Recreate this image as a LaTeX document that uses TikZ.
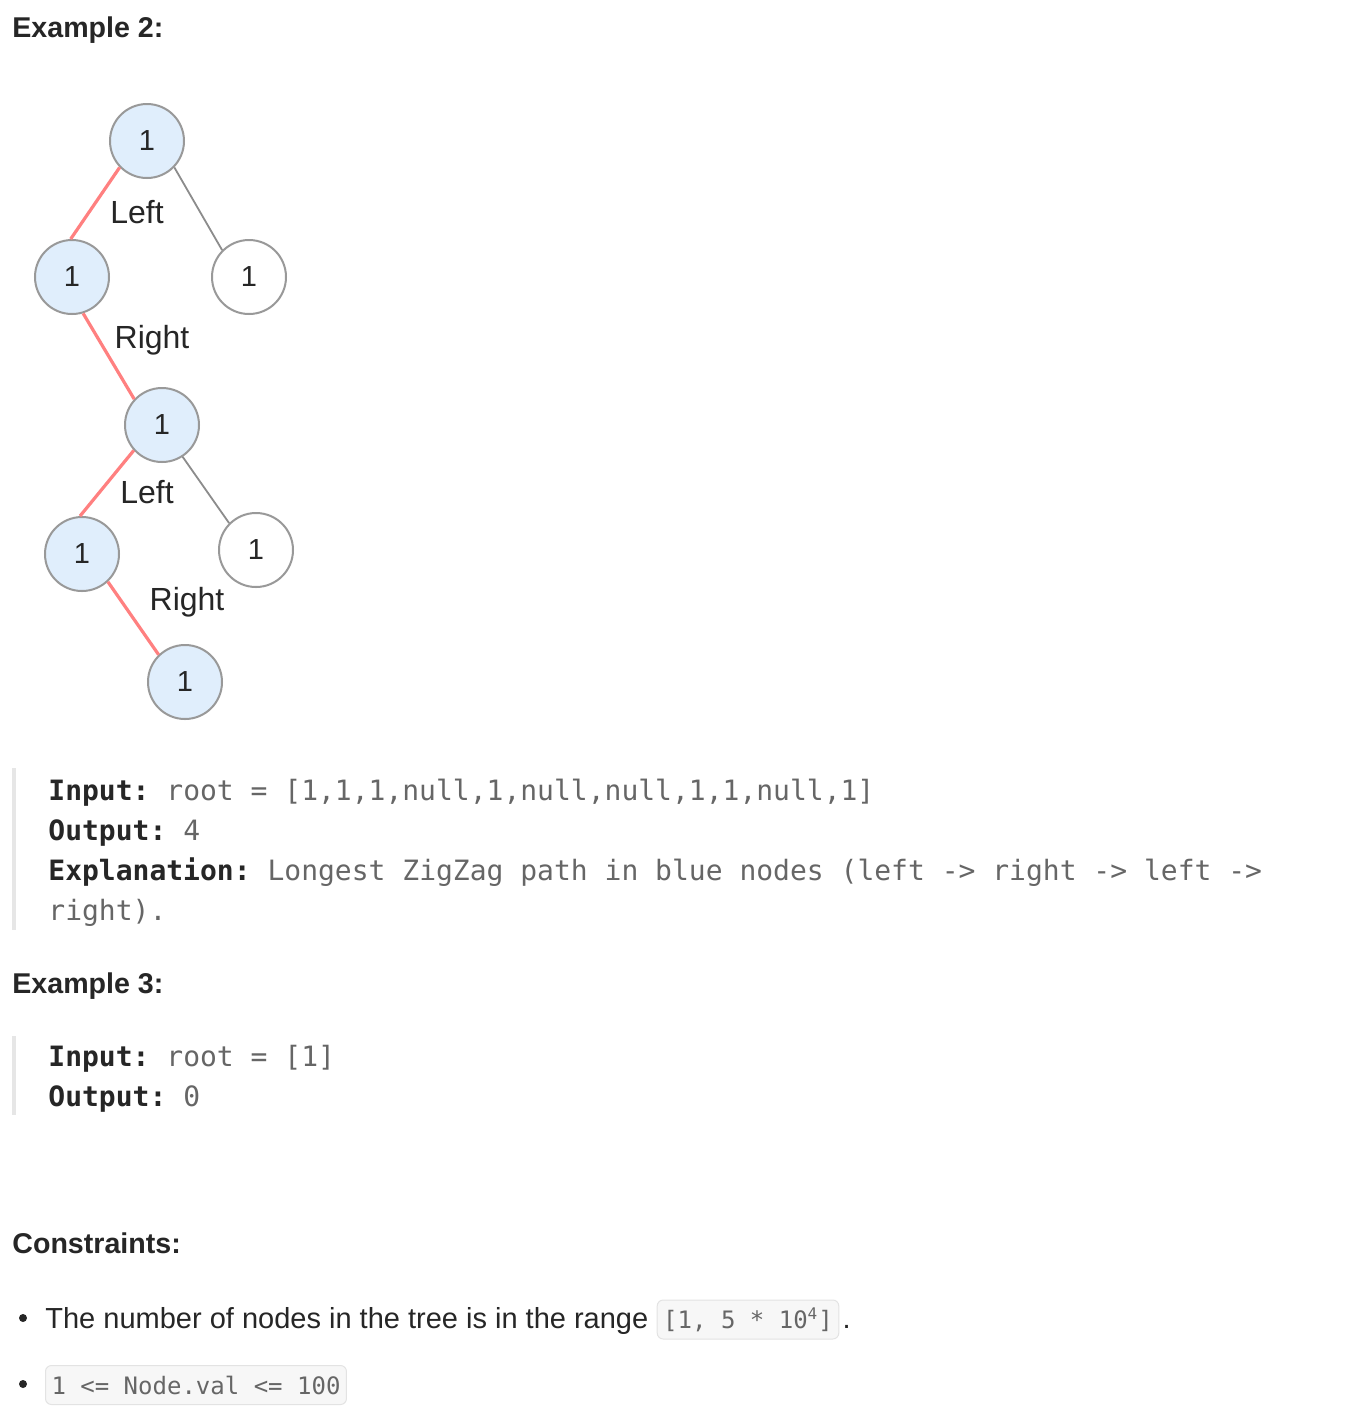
\documentclass[tikz,border=0pt]{standalone}
\usepackage{fontspec}
\setmainfont{Liberation Sans}
\newfontfamily\codefont{DejaVu Sans Mono}
\usetikzlibrary{positioning}
\frenchspacing
\definecolor{ink}{HTML}{262626}
\definecolor{codegray}{HTML}{666666}
\definecolor{barcol}{HTML}{E6E6E6}
\definecolor{nodefill}{HTML}{E0EEFC}
\definecolor{nodeline}{HTML}{999999}
\definecolor{zigred}{HTML}{FF8080}
\definecolor{edgegray}{HTML}{8C8C8C}
\definecolor{chipfill}{HTML}{F7F7F7}
\definecolor{chipline}{HTML}{E3E3E3}

\begin{document}
\begin{tikzpicture}[x=0.5pt, y=-0.5pt, text=ink,
        tnode/.style={circle, draw=nodeline, line width=1pt, fill=white, minimum size=37pt, inner sep=0pt, font=\fontsize{14.5}{14.5}\selectfont},
        onpath/.style={tnode, fill=nodefill},
        zig/.style={draw=zigred, line width=1.6pt},
        plain/.style={draw=edgegray, line width=0.9pt},
        dir/.style={font=\fontsize{16}{16}\selectfont, inner sep=0pt},
        head/.style={font=\fontsize{14.3}{14.3}\selectfont\bfseries, anchor=base west, inner sep=0pt},
        code/.style={font=\fontsize{14}{14}\codefont, text=codegray, anchor=base west, inner sep=0pt},
        body/.style={font=\fontsize{14.5}{14.5}\selectfont, anchor=base west, inner sep=0pt},
        chip/.style={font=\fontsize{12}{12}\codefont, text=codegray, draw=chipline, fill=chipfill, rounded corners=3pt, inner xsep=3pt, minimum height=19.5pt, line width=0.5pt},
        bullet/.style={circle, fill=ink, minimum size=4pt, inner sep=0pt}]
    \useasboundingbox[fill=white] (0,0) rectangle (1348,1420);

    % heading of example 2
    \node[head] (ex2) at (12,37) {Example 2:};

    % the tree
    \node[onpath] (n1) at (147,141) {1};
    \node[onpath] (n2) at (72,277) {1};
    \node[tnode] (n3) at (249,277) {1};
    \node[onpath] (n4) at (162,425) {1};
    \node[onpath] (n5) at (82,554) {1};
    \node[tnode] (n6) at (256,550) {1};
    \node[onpath] (n7) at (185,682) {1};

    \path
        (n1.-136) edge[zig] (n2.92)
        (n1.-44) edge[plain] (n3.135)
        (n2.-73) edge[zig] (n4.137)
        (n4.-138) edge[zig] (n5.93)
        (n4.-57) edge[plain] (n6.135)
        (n5.-47) edge[zig] (n7.134);

    \node[dir] (l1) at (137,212) {Left};
    \node[dir] (r1) at (152,340) {Right};
    \node[dir] (l2) at (147,492) {Left};
    \node[dir] (r2) at (187,602) {Right};

    % example 2 text
    \fill[barcol] (12,768) rectangle (16,930);
    \node[code] (in2) at (48,800) {\textbf{\color{ink}Input:} root = [1,1,1,null,1,null,null,1,1,null,1]};
    \node[code] (out2) at (48,840) {\textbf{\color{ink}Output:} 4};
    \node[code] (ex2a) at (48,880) {\textbf{\color{ink}Explanation:} Longest ZigZag path in blue nodes (left -> right -> left ->};
    \node[code] (ex2b) at (48,920) {right).};

    % example 3
    \node[head] (ex3) at (12,993) {Example 3:};
    \fill[barcol] (12,1036) rectangle (16,1115);
    \node[code] (in3) at (48,1066) {\textbf{\color{ink}Input:} root = [1]};
    \node[code] (out3) at (48,1106) {\textbf{\color{ink}Output:} 0};

    % constraints
    \node[head] (cons) at (12,1253) {Constraints:};
    \node[bullet] (b1) at (23,1318) {};
    \node[body] (c1) at (45,1328) {The number of nodes in the tree is in the range};
    \node[chip, anchor=base west] (rng) at ([xshift=4pt]c1.base east) {[1, 5 * 10\textsuperscript{4}]};
    \node[body] (stop) at ([xshift=1.5pt]rng.base east) {.};
    \node[bullet] (b2) at (23,1384) {};
    \node[chip, anchor=west] (val) at (45,1385) {1 <= Node.val <= 100};
\end{tikzpicture}
\end{document}
